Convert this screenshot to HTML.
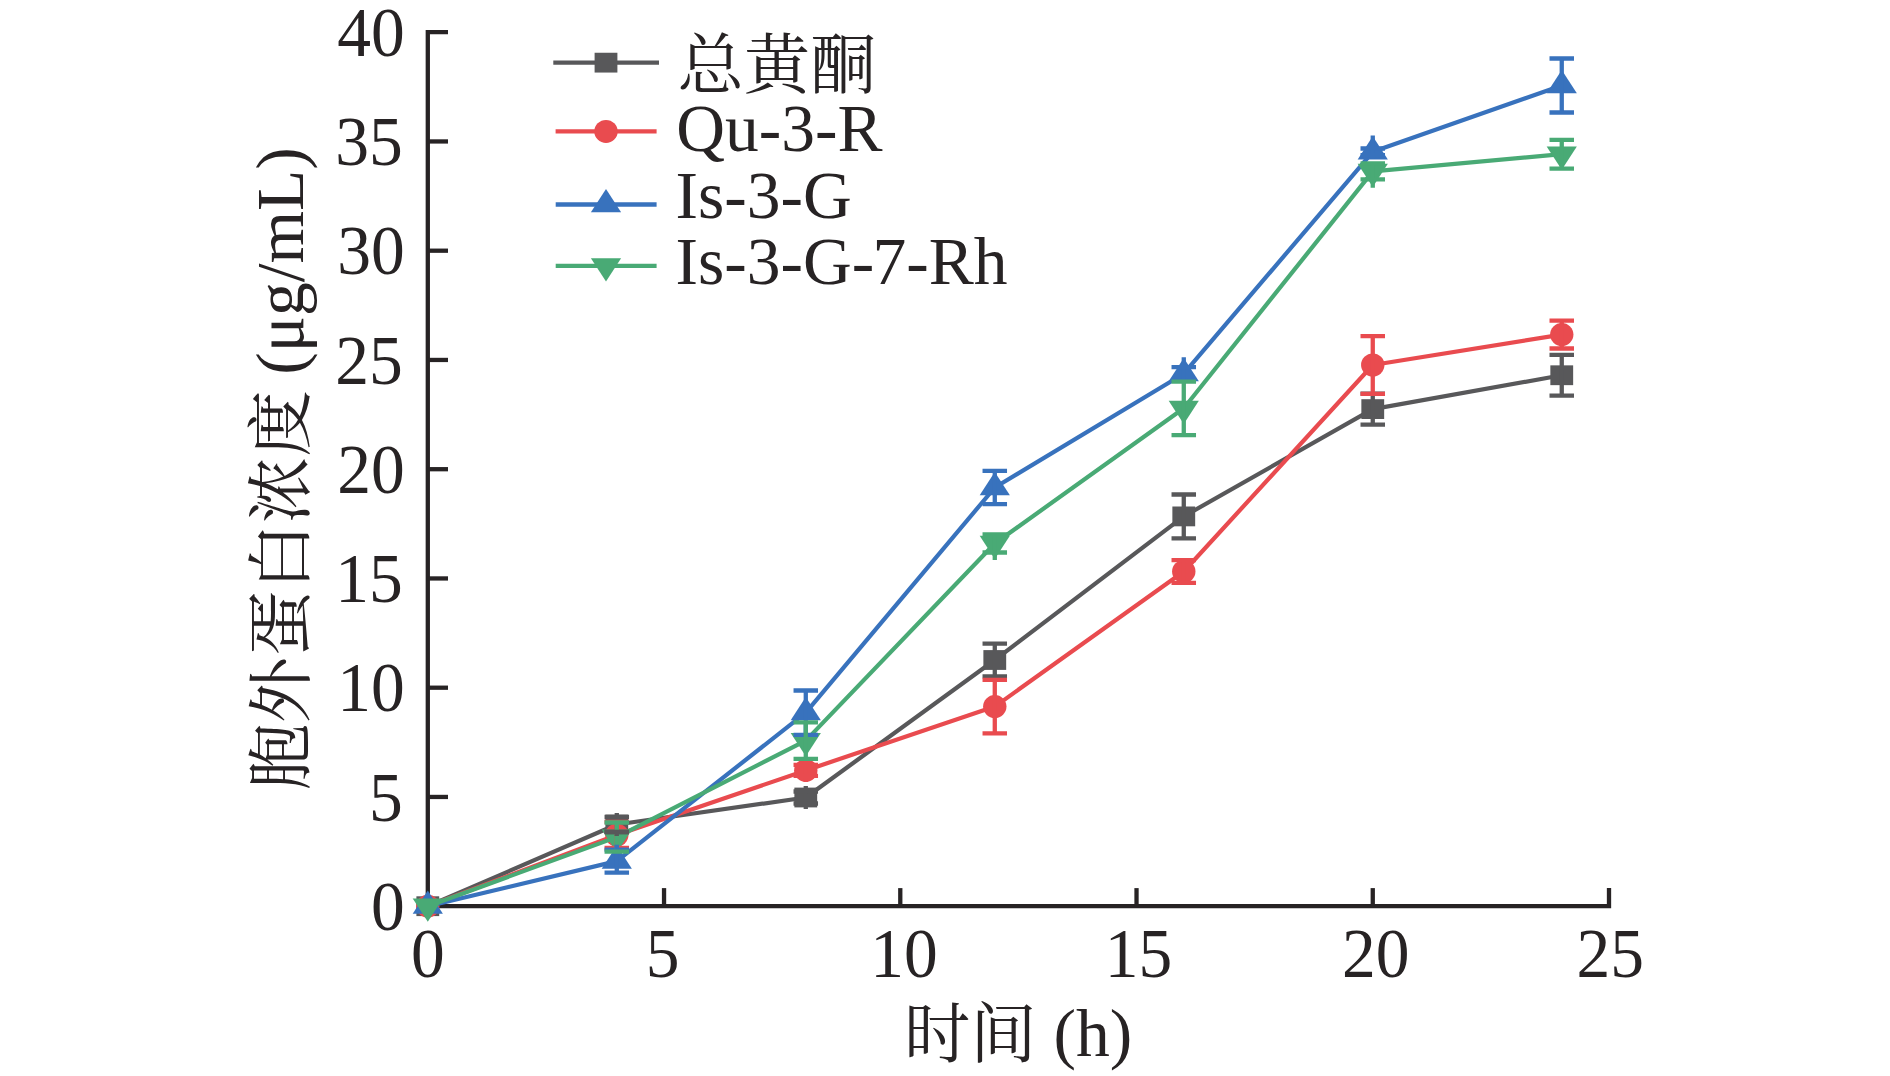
<!DOCTYPE html>
<html lang="zh"><head><meta charset="utf-8"><title>胞外蛋白浓度</title>
<style>html,body{margin:0;padding:0;background:#fff}body{width:1890px;height:1076px;overflow:hidden}svg{display:block}
text{font-family:"Liberation Serif","Noto Serif CJK SC",serif;fill:#272324}
.t{font-size:67.5px}.c{font-size:66.3px}
</style></head><body>
<svg width="1890" height="1076" viewBox="0 0 1890 1076">
<rect width="1890" height="1076" fill="#fff"/>
<g stroke="#272324" stroke-width="4.3" fill="none" stroke-linecap="butt">
<path d="M448 32.2 H427.8 V906.2 H1609 V888.1"/>
<path d="M427.8 796.95 H448"/>
<path d="M427.8 687.70 H448"/>
<path d="M427.8 578.45 H448"/>
<path d="M427.8 469.20 H448"/>
<path d="M427.8 359.95 H448"/>
<path d="M427.8 250.70 H448"/>
<path d="M427.8 141.45 H448"/>
<path d="M664.04 906.2 V888.1"/>
<path d="M900.28 906.2 V888.1"/>
<path d="M1136.52 906.2 V888.1"/>
<path d="M1372.76 906.2 V888.1"/>
</g>
<text class="t" transform="translate(404.80 929.80) scale(1 1.042)" text-anchor="end">0</text>
<text class="t" transform="translate(402.80 820.55) scale(1 1.042)" text-anchor="end">5</text>
<text class="t" transform="translate(404.80 711.30) scale(1 1.042)" text-anchor="end">10</text>
<text class="t" transform="translate(402.80 602.05) scale(1 1.042)" text-anchor="end">15</text>
<text class="t" transform="translate(404.80 492.80) scale(1 1.042)" text-anchor="end">20</text>
<text class="t" transform="translate(402.80 383.55) scale(1 1.042)" text-anchor="end">25</text>
<text class="t" transform="translate(404.80 274.30) scale(1 1.042)" text-anchor="end">30</text>
<text class="t" transform="translate(402.80 165.05) scale(1 1.042)" text-anchor="end">35</text>
<text class="t" transform="translate(404.80 55.80) scale(1 1.042)" text-anchor="end">40</text>
<text class="t" transform="translate(428.00 976.7) scale(1 1.042)" text-anchor="middle">0</text>
<text class="t" transform="translate(662.54 976.7) scale(1 1.042)" text-anchor="middle">5</text>
<text class="t" transform="translate(903.88 976.7) scale(1 1.042)" text-anchor="middle">10</text>
<text class="t" transform="translate(1138.52 976.7) scale(1 1.042)" text-anchor="middle">15</text>
<text class="t" transform="translate(1375.76 976.7) scale(1 1.042)" text-anchor="middle">20</text>
<text class="t" transform="translate(1610.20 976.7) scale(1 1.042)" text-anchor="middle">25</text>
<text class="t" x="904" y="1056"><tspan class="c" dy="1.3">时间</tspan><tspan dy="-1.3"> (h)</tspan></text>
<text class="t" transform="translate(302.6 790) rotate(-90)"><tspan class="c" dy="1" letter-spacing="0.4">胞外蛋白浓度</tspan><tspan dy="-1" dx="-1.7"> (μg/mL)</tspan></text>
<polyline points="427.80,906.20 616.79,824.50 805.78,797.50 994.78,660.00 1183.77,516.40 1372.76,409.10 1561.75,375.25" fill="none" stroke="#58585a" stroke-width="4.2" stroke-linejoin="round"/>
<rect x="416.40" y="896.30" width="22.8" height="19.8" fill="#58585a"/>
<rect x="605.39" y="814.60" width="22.8" height="19.8" fill="#58585a"/>
<rect x="794.38" y="787.60" width="22.8" height="19.8" fill="#58585a"/>
<rect x="983.38" y="650.10" width="22.8" height="19.8" fill="#58585a"/>
<rect x="1172.37" y="506.50" width="22.8" height="19.8" fill="#58585a"/>
<rect x="1361.36" y="399.20" width="22.8" height="19.8" fill="#58585a"/>
<rect x="1550.35" y="365.35" width="22.8" height="19.8" fill="#58585a"/>
<polyline points="427.80,906.20 616.79,835.00 805.78,770.40 994.78,706.60 1183.77,571.50 1372.76,365.00 1561.75,334.60" fill="none" stroke="#e94b4f" stroke-width="4.2" stroke-linejoin="round"/>
<ellipse cx="427.80" cy="906.20" rx="11.7" ry="11.5" fill="#e94b4f"/>
<ellipse cx="616.79" cy="835.00" rx="11.7" ry="11.5" fill="#e94b4f"/>
<ellipse cx="805.78" cy="770.40" rx="11.7" ry="11.5" fill="#e94b4f"/>
<ellipse cx="994.78" cy="706.60" rx="11.7" ry="11.5" fill="#e94b4f"/>
<ellipse cx="1183.77" cy="571.50" rx="11.7" ry="11.5" fill="#e94b4f"/>
<ellipse cx="1372.76" cy="365.00" rx="11.7" ry="11.5" fill="#e94b4f"/>
<ellipse cx="1561.75" cy="334.60" rx="11.7" ry="11.5" fill="#e94b4f"/>
<polyline points="427.80,906.20 616.79,861.10 805.78,712.70 994.78,487.50 1183.77,373.70 1372.76,151.80 1561.75,85.50" fill="none" stroke="#3872bd" stroke-width="4.2" stroke-linejoin="round"/>
<polygon points="412.70,913.87 442.90,913.87 427.80,890.60" fill="#3872bd"/>
<polygon points="601.69,868.77 631.89,868.77 616.79,845.50" fill="#3872bd"/>
<polygon points="790.68,720.37 820.88,720.37 805.78,697.10" fill="#3872bd"/>
<polygon points="979.68,495.17 1009.88,495.17 994.78,471.90" fill="#3872bd"/>
<polygon points="1168.67,381.37 1198.87,381.37 1183.77,358.10" fill="#3872bd"/>
<polygon points="1357.66,159.47 1387.86,159.47 1372.76,136.20" fill="#3872bd"/>
<polygon points="1546.65,93.17 1576.85,93.17 1561.75,69.90" fill="#3872bd"/>
<polyline points="427.80,906.20 616.79,837.10 805.78,740.60 994.78,543.50 1183.77,408.30 1372.76,171.40 1561.75,154.20" fill="none" stroke="#49aa75" stroke-width="4.2" stroke-linejoin="round"/>
<polygon points="412.70,898.53 442.90,898.53 427.80,921.80" fill="#49aa75"/>
<polygon points="601.69,829.43 631.89,829.43 616.79,852.70" fill="#49aa75"/>
<polygon points="790.68,732.93 820.88,732.93 805.78,756.20" fill="#49aa75"/>
<polygon points="979.68,535.83 1009.88,535.83 994.78,559.10" fill="#49aa75"/>
<polygon points="1168.67,400.63 1198.87,400.63 1183.77,423.90" fill="#49aa75"/>
<polygon points="1357.66,163.73 1387.86,163.73 1372.76,187.00" fill="#49aa75"/>
<polygon points="1546.65,146.53 1576.85,146.53 1561.75,169.80" fill="#49aa75"/>
<g stroke="#58585a" stroke-width="4.3" fill="none">
<path d="M616.79 812.90 V836.10 M604.54 817.00 H629.04 M604.54 832.00 H629.04"/>
<path d="M805.78 785.90 V809.10 M793.53 791.50 H818.03 M793.53 803.50 H818.03"/>
<path d="M994.78 643.70 V676.30 M982.53 643.70 H1007.03 M982.53 676.30 H1007.03"/>
<path d="M1183.77 494.50 V538.30 M1171.52 494.50 H1196.02 M1171.52 538.30 H1196.02"/>
<path d="M1372.76 393.60 V424.60 M1360.51 393.60 H1385.01 M1360.51 424.60 H1385.01"/>
<path d="M1561.75 354.90 V395.60 M1549.50 354.90 H1574.00 M1549.50 395.60 H1574.00"/>
</g>
<g stroke="#e94b4f" stroke-width="4.3" fill="none">
<path d="M616.79 822.00 V848.00 M604.54 822.00 H629.04 M604.54 848.00 H629.04"/>
<path d="M805.78 758.90 V781.90 M793.53 764.90 H818.03 M793.53 775.90 H818.03"/>
<path d="M994.78 679.80 V733.40 M982.53 679.80 H1007.03 M982.53 733.40 H1007.03"/>
<path d="M1183.77 560.00 V583.00 M1171.52 560.10 H1196.02 M1171.52 582.90 H1196.02"/>
<path d="M1372.76 336.20 V393.80 M1360.51 336.20 H1385.01 M1360.51 393.80 H1385.01"/>
<path d="M1561.75 320.70 V348.50 M1549.50 320.70 H1574.00 M1549.50 348.50 H1574.00"/>
</g>
<g stroke="#3872bd" stroke-width="4.3" fill="none">
<path d="M616.79 844.70 V872.60 M604.54 849.60 H629.04 M604.54 872.60 H629.04"/>
<path d="M805.78 690.50 V734.90 M793.53 690.50 H818.03 M793.53 734.90 H818.03"/>
<path d="M994.78 470.90 V504.10 M982.53 470.90 H1007.03 M982.53 504.10 H1007.03"/>
<path d="M1183.77 357.30 V380.70 M1171.52 367.10 H1196.02 M1171.52 380.30 H1196.02"/>
<path d="M1372.76 135.40 V158.80 M1360.51 148.50 H1385.01 M1360.51 155.10 H1385.01"/>
<path d="M1561.75 58.50 V112.50 M1549.50 58.50 H1574.00 M1549.50 112.50 H1574.00"/>
</g>
<g stroke="#49aa75" stroke-width="4.3" fill="none">
<path d="M616.79 822.50 V853.50 M604.54 822.50 H629.04 M604.54 851.70 H629.04"/>
<path d="M805.78 722.30 V758.90 M793.53 722.30 H818.03 M793.53 758.90 H818.03"/>
<path d="M994.78 534.50 V559.90 M982.53 534.50 H1007.03 M982.53 552.50 H1007.03"/>
<path d="M1183.77 381.55 V435.05 M1171.52 381.55 H1196.02 M1171.52 435.05 H1196.02"/>
<path d="M1372.76 163.40 V187.80 M1360.51 163.40 H1385.01 M1360.51 179.40 H1385.01"/>
<path d="M1561.75 139.80 V170.60 M1549.50 139.80 H1574.00 M1549.50 168.60 H1574.00"/>
</g>
<path d="M604.54 832 H629.04 M616.79 830 V836.1" stroke="#58585a" stroke-width="4.3" fill="none"/>
<path d="M616.79 844.7 V849.5" stroke="#3872bd" stroke-width="4.3" fill="none"/>
<path d="M553.3 62.65 H659.0" stroke="#58585a" stroke-width="4.4" fill="none"/>
<rect x="594.60" y="52.75" width="22.8" height="19.8" fill="#58585a"/>
<text class="t c" x="677.5" y="88.3">总黄酮</text>
<path d="M555.6 131.4 H656.6" stroke="#e94b4f" stroke-width="4.4" fill="none"/>
<ellipse cx="606.00" cy="131.40" rx="11.7" ry="11.5" fill="#e94b4f"/>
<text class="t" x="676.2" y="151.4">Qu-3-R</text>
<path d="M555.7 204.5 H656.6" stroke="#3872bd" stroke-width="4.4" fill="none"/>
<polygon points="590.90,212.17 621.10,212.17 606.00,188.90" fill="#3872bd"/>
<text class="t" x="675.5" y="218.0">Is-3-G</text>
<path d="M555.7 265.9 H656.6" stroke="#49aa75" stroke-width="4.4" fill="none"/>
<polygon points="590.90,258.23 621.10,258.23 606.00,281.50" fill="#49aa75"/>
<text class="t" x="675.5" y="283.8">Is-3-G-<tspan dx="-1.6">7-Rh</tspan></text>
</svg></body></html>
